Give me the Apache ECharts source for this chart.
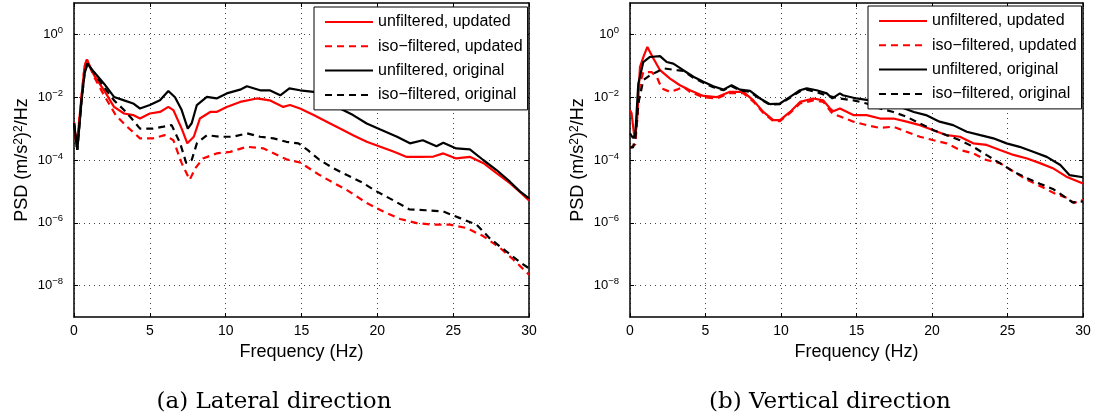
<!DOCTYPE html>
<html>
<head>
<meta charset="utf-8">
<script src="https://cdn.jsdelivr.net/npm/echarts@6/dist/echarts.min.js"></script>
<style>html,body{margin:0;padding:0;background:#fff;}#main{width:1098px;height:420px;}</style>
</head>
<body>
<div id="main"></div>
<script>
// ---------- data ----------
const seriesNames = ['unfiltered, updated', 'iso\u2212filtered, updated', 'unfiltered, original', 'iso\u2212filtered, original'];
const xTickValues = [0, 5, 10, 15, 20, 25, 30];
const yTickValues = [1e-8, 1e-6, 1e-4, 1e-2, 1];
const captions = ['(a) Lateral direction', '(b) Vertical direction'];

// (a) Lateral direction
const latUnfUpdF = [0, 0.18, 0.5, 0.7, 0.85, 1.32, 1.98, 2.64, 3.3, 3.9, 4.35, 5.0, 5.67, 6.22, 6.55, 7.1, 7.47, 7.9, 8.3, 8.98, 9.4, 10.07, 10.95, 12.05, 12.9, 13.8, 14.24, 14.9, 15.8, 16.66, 17.54, 18.4, 19.3, 20.2, 21.1, 21.9, 22.8, 23.7, 24.35, 25.2, 26.1, 27.0, 27.86, 28.74, 29.4, 30];
const latUnfUpdV = [1.58e-3, 2.63e-4, 1.10e-2, 1.0e-1, 1.58e-1, 5.01e-2, 1.66e-2, 4.90e-3, 3.02e-3, 2.69e-3, 2.09e-3, 3.02e-3, 3.39e-3, 4.90e-3, 3.89e-3, 1.0e-3, 3.39e-4, 5.50e-4, 2.09e-3, 3.39e-3, 3.39e-3, 4.90e-3, 7.08e-3, 9.12e-3, 7.94e-3, 4.90e-3, 5.62e-3, 4.37e-3, 2.69e-3, 1.66e-3, 1.0e-3, 6.17e-4, 3.80e-4, 2.63e-4, 1.82e-4, 1.26e-4, 1.26e-4, 1.29e-4, 1.62e-4, 1.12e-4, 1.26e-4, 7.94e-5, 3.80e-5, 1.82e-5, 9.55e-6, 5.13e-6];

const latIsoUpdF = [0, 0.18, 0.5, 0.7, 0.85, 1.32, 1.98, 2.3, 2.75, 3.5, 4.35, 5.2, 5.98, 6.55, 7.1, 7.63, 8.0, 8.5, 9.4, 10.3, 11.4, 12.5, 13.4, 14.0, 14.9, 16.2, 17.0, 17.97, 19.3, 20.4, 21.5, 22.6, 23.7, 24.8, 25.9, 27.0, 28.1, 28.96, 30];
const latIsoUpdV = [1.58e-3, 2.63e-4, 1.10e-2, 1.0e-1, 1.58e-1, 4.47e-2, 1.15e-2, 6.31e-3, 2.69e-3, 1.15e-3, 4.90e-4, 4.90e-4, 6.17e-4, 4.27e-4, 7.94e-5, 2.34e-5, 5.50e-5, 1.12e-4, 1.62e-4, 1.82e-4, 2.63e-4, 2.34e-4, 1.45e-4, 1.05e-4, 8.32e-5, 3.31e-5, 2.0e-5, 1.12e-5, 4.27e-6, 2.29e-6, 1.32e-6, 9.77e-7, 8.71e-7, 8.71e-7, 6.76e-7, 3.72e-7, 1.58e-7, 6.76e-8, 2.24e-8];

const latUnfOrgF = [0, 0.22, 0.5, 0.7, 0.88, 1.32, 1.98, 2.64, 3.3, 3.9, 4.35, 5.0, 5.67, 6.22, 6.66, 7.1, 7.5, 7.76, 8.1, 8.76, 9.4, 10.07, 10.95, 11.4, 12.27, 12.9, 13.6, 14.2, 14.9, 15.8, 16.66, 17.54, 18.4, 19.3, 20.2, 21.3, 22.15, 23.0, 23.9, 24.35, 25.2, 26.1, 26.98, 27.86, 28.74, 29.4, 30];
const latUnfOrgV = [1.48e-3, 2.09e-4, 7.94e-3, 5.75e-2, 1.17e-1, 6.31e-2, 2.69e-2, 1.02e-2, 7.94e-3, 6.31e-3, 4.37e-3, 5.62e-3, 7.94e-3, 1.58e-2, 1.0e-2, 3.89e-3, 1.0e-3, 1.48e-3, 5.62e-3, 1.02e-2, 9.12e-3, 1.32e-2, 1.74e-2, 2.24e-2, 1.66e-2, 1.66e-2, 1.15e-2, 1.91e-2, 1.66e-2, 1.48e-2, 7.94e-3, 4.37e-3, 2.69e-3, 1.45e-3, 9.33e-4, 5.50e-4, 3.39e-4, 4.27e-4, 2.75e-4, 3.55e-4, 2.34e-4, 2.19e-4, 1.0e-4, 4.79e-5, 2.04e-5, 1.0e-5, 6.03e-6];

const latIsoOrgF = [0, 0.22, 0.5, 0.7, 0.88, 1.32, 1.98, 2.64, 3.3, 3.8, 4.35, 5.2, 5.9, 6.44, 7.0, 7.4, 7.76, 8.1, 8.76, 9.6, 10.5, 11.4, 12.27, 13.15, 14.0, 14.8, 15.4, 16.2, 17.1, 18.0, 18.9, 19.95, 21.0, 22.1, 23.2, 24.35, 25.45, 26.55, 27.4, 28.5, 29.4, 30];
const latIsoOrgV = [1.48e-3, 2.09e-4, 7.94e-3, 5.75e-2, 1.17e-1, 6.03e-2, 2.09e-2, 7.94e-3, 3.89e-3, 2.09e-3, 1.0e-3, 1.0e-3, 1.15e-3, 1.29e-3, 3.39e-4, 7.94e-5, 1.0e-4, 3.39e-4, 6.17e-4, 5.50e-4, 5.50e-4, 7.08e-4, 5.50e-4, 4.90e-4, 3.80e-4, 3.39e-4, 2.09e-4, 1.0e-4, 5.50e-5, 3.31e-5, 2.04e-5, 1.0e-5, 5.37e-6, 2.69e-6, 2.51e-6, 2.29e-6, 1.41e-6, 8.71e-7, 3.24e-7, 1.23e-7, 5.62e-8, 3.55e-8];

// (b) Vertical direction
const verUnfUpdF = [0, 0.1, 0.3, 0.45, 0.66, 0.9, 1.15, 1.55, 1.99, 2.65, 3.31, 3.97, 4.86, 5.74, 6.62, 7.5, 8.17, 8.83, 9.49, 9.93, 10.6, 11.26, 12.14, 12.8, 13.25, 13.46, 13.9, 14.79, 15.67, 16.56, 17.44, 18.32, 19.2, 20.09, 20.97, 21.85, 22.73, 23.62, 24.5, 25.4, 26.3, 27.15, 28.0, 28.9, 30];
const verUnfUpdV = [3.89e-3, 3.16e-3, 5.01e-4, 1.26e-3, 9.12e-2, 2.0e-1, 3.98e-1, 1.70e-1, 7.24e-2, 3.89e-2, 2.40e-2, 1.66e-2, 1.10e-2, 1.0e-2, 1.48e-2, 1.48e-2, 7.94e-3, 3.39e-3, 1.86e-3, 1.86e-3, 3.39e-3, 7.08e-3, 9.12e-3, 7.94e-3, 4.37e-3, 3.55e-3, 4.37e-3, 2.69e-3, 2.69e-3, 2.09e-3, 2.09e-3, 1.66e-3, 1.29e-3, 8.91e-4, 6.17e-4, 5.50e-4, 3.39e-4, 3.02e-4, 2.09e-4, 1.45e-4, 1.12e-4, 7.94e-5, 5.50e-5, 2.95e-5, 1.78e-5];

const verIsoUpdF = [0, 0.1, 0.35, 0.66, 0.88, 1.43, 1.77, 2.1, 2.65, 3.1, 3.53, 3.97, 4.86, 5.74, 6.62, 7.5, 8.17, 8.83, 9.49, 9.93, 10.6, 11.26, 12.14, 12.8, 13.4, 14.8, 15.67, 16.56, 17.44, 18.3, 19.2, 20.1, 20.97, 21.85, 22.73, 23.6, 24.5, 25.4, 26.3, 27.0, 28.1, 29.0, 29.4, 30];
const verIsoUpdV = [2.40e-4, 2.40e-4, 3.16e-4, 2.69e-2, 6.31e-2, 6.31e-2, 4.47e-2, 1.91e-2, 1.48e-2, 1.74e-2, 2.14e-2, 1.48e-2, 1.0e-2, 9.12e-3, 1.35e-2, 1.35e-2, 7.24e-3, 3.16e-3, 1.74e-3, 1.74e-3, 3.16e-3, 6.31e-3, 7.94e-3, 7.08e-3, 3.02e-3, 1.66e-3, 1.29e-3, 1.05e-3, 1.15e-3, 7.94e-4, 5.50e-4, 4.27e-4, 3.39e-4, 2.09e-4, 1.62e-4, 1.0e-4, 7.94e-5, 4.27e-5, 2.34e-5, 1.62e-5, 8.71e-6, 6.03e-6, 4.27e-6, 5.37e-6];

const verUnfOrgF = [0, 0.2, 0.35, 0.55, 0.88, 1.32, 1.99, 2.43, 2.87, 3.53, 4.2, 4.86, 5.52, 6.18, 6.73, 7.28, 7.95, 8.61, 9.27, 9.93, 10.6, 11.26, 11.7, 12.36, 13.03, 13.4, 13.9, 14.1, 15.0, 15.9, 17.0, 17.9, 18.8, 19.6, 20.5, 21.4, 22.3, 23.2, 24.06, 24.94, 25.8, 26.7, 27.6, 28.5, 29.1, 30];
const verUnfOrgV = [7.08e-4, 5.01e-4, 6.31e-4, 2.69e-2, 1.32e-1, 1.91e-1, 2.04e-1, 1.32e-1, 1.17e-1, 7.24e-2, 4.47e-2, 3.09e-2, 2.24e-2, 1.74e-2, 2.40e-2, 1.74e-2, 1.58e-2, 9.12e-3, 6.03e-3, 6.31e-3, 1.02e-2, 1.66e-2, 1.91e-2, 1.66e-2, 1.32e-2, 9.12e-3, 1.32e-2, 1.15e-2, 9.12e-3, 7.94e-3, 5.62e-3, 4.90e-3, 3.39e-3, 2.69e-3, 1.66e-3, 1.29e-3, 7.94e-4, 6.17e-4, 4.90e-4, 3.39e-4, 2.63e-4, 1.82e-4, 1.26e-4, 6.92e-5, 3.31e-5, 2.82e-5];

const verIsoOrgF = [0, 0.2, 0.35, 0.55, 0.88, 1.32, 1.77, 2.21, 3.1, 3.53, 4.2, 4.86, 5.52, 6.18, 6.73, 7.28, 7.95, 8.61, 9.27, 9.93, 10.6, 11.26, 11.7, 12.36, 13.03, 13.9, 14.8, 15.67, 16.56, 17.44, 18.3, 19.2, 20.1, 20.97, 21.85, 22.73, 23.6, 24.5, 25.4, 26.3, 27.15, 28.0, 28.6, 29.3, 30];
const verIsoOrgV = [2.51e-4, 2.51e-4, 5.01e-4, 6.31e-3, 3.47e-2, 5.01e-2, 6.31e-2, 8.32e-2, 7.24e-2, 6.92e-2, 4.17e-2, 2.88e-2, 2.09e-2, 1.66e-2, 2.24e-2, 1.66e-2, 1.48e-2, 8.71e-3, 5.75e-3, 6.03e-3, 9.55e-3, 1.55e-2, 1.74e-2, 1.45e-2, 1.12e-2, 9.12e-3, 7.94e-3, 6.31e-3, 4.37e-3, 3.39e-3, 2.40e-3, 1.45e-3, 8.91e-4, 6.17e-4, 4.27e-4, 2.63e-4, 1.45e-4, 7.94e-5, 4.27e-5, 2.63e-5, 1.74e-5, 1.20e-5, 7.76e-6, 4.47e-6, 4.79e-6];

// ---------- chart ----------
const FONT = '"Liberation Sans", Arial, Helvetica, sans-serif';
const chart = echarts.init(document.getElementById('main'), null, {renderer: 'canvas'});

function pairs(f, v) { return f.map((x, i) => [x, v[i]]); }

const grids = [
  {left: 74, top: 3, width: 455, height: 314},
  {left: 630, top: 3, width: 453, height: 314}
];
const gridLine = {show: true, lineStyle: {color: '#444', width: 1, type: [1, 4]}};
const axisLineStyle = {show: true, onZero: false, lineStyle: {color: '#000', width: 1.5}};
const tickStyle = {show: true, inside: true, length: 4, lineStyle: {color: '#000', width: 1}};

const xAxes = [], yAxes = [];
[0, 1].forEach(g => {
  xAxes.push({
    type: 'value', gridIndex: g, min: 0, max: 30, interval: 5, position: 'bottom',
    axisLine: axisLineStyle, axisTick: tickStyle, splitLine: gridLine,
    axisLabel: {color: '#000', fontSize: 14, fontFamily: FONT, margin: 7},
    name: 'Frequency (Hz)', nameLocation: 'middle', nameGap: 25,
    nameTextStyle: {color: '#000', fontSize: 18, fontFamily: FONT}
  });
  xAxes.push({
    type: 'value', gridIndex: g, min: 0, max: 30, interval: 5, position: 'top',
    axisLine: axisLineStyle, axisTick: tickStyle, splitLine: {show: false},
    axisLabel: {show: false}
  });
  yAxes.push({
    type: 'log', logBase: 10, gridIndex: g, min: 1e-9, max: 10, position: 'left',
    axisLine: axisLineStyle,
    axisTick: Object.assign({}, tickStyle, {customValues: yTickValues}),
    splitLine: gridLine,
    axisLabel: {
      customValues: yTickValues, margin: 11,
      formatter: function (v) {
        const e = Math.round(Math.log10(v));
        return '{b|10}{s|' + (e < 0 ? '\u2212' : '') + Math.abs(e) + '}';
      },
      rich: {
        b: {fontSize: 13, fontFamily: FONT, color: '#000', lineHeight: 13},
        s: {fontSize: 9.5, fontFamily: FONT, color: '#000', lineHeight: 10, padding: [0, 0, 8, 0]}
      }
    },
    name: '{a|PSD (m/s}{p|2}{a|)}{p|2}{a|/Hz}', nameLocation: 'middle', nameGap: 43,
    nameTextStyle: {
      rich: {
        a: {fontSize: 18, fontFamily: FONT, color: '#000', lineHeight: 18, padding: [4, 0, 0, 0], verticalAlign: 'bottom'},
        p: {fontSize: 12, fontFamily: FONT, color: '#000', lineHeight: 12, verticalAlign: 'top'}
      }
    }
  });
  yAxes.push({
    type: 'log', logBase: 10, gridIndex: g, min: 1e-9, max: 10, position: 'right',
    axisLine: axisLineStyle,
    axisTick: Object.assign({}, tickStyle, {customValues: yTickValues}),
    splitLine: {show: false}, axisLabel: {show: false}
  });
});

const panels = [
  [latUnfUpdF, latUnfUpdV, latIsoUpdF, latIsoUpdV, latUnfOrgF, latUnfOrgV, latIsoOrgF, latIsoOrgV],
  [verUnfUpdF, verUnfUpdV, verIsoUpdF, verIsoUpdV, verUnfOrgF, verUnfOrgV, verIsoOrgF, verIsoOrgV]
];
const colors = ['#ff0000', '#ff0000', '#000000', '#000000'];
const dashes = ['solid', [7, 5], 'solid', [7, 5]];

const series = [];
panels.forEach((p, g) => {
  for (let k = 0; k < 4; k++) {
    series.push({
      type: 'line', name: seriesNames[k], xAxisIndex: g * 2, yAxisIndex: g * 2,
      data: pairs(p[k * 2], p[k * 2 + 1]),
      showSymbol: false, symbol: 'none', smooth: false, animation: false,
      lineStyle: {color: colors[k], width: 2.2, type: dashes[k]},
      itemStyle: {color: colors[k]}, z: 2 + k
    });
  }
});

const legendBase = {
  orient: 'vertical', itemWidth: 48, itemHeight: 14, itemGap: 8.3,
  padding: [7, 5, 7, 10], backgroundColor: '#fff', borderColor: '#000', borderWidth: 1,
  textStyle: {color: '#000', fontSize: 16, fontFamily: FONT},
  itemStyle: {opacity: 0, borderWidth: 0},
  data: seriesNames, selectedMode: false, z: 10
};

chart.setOption({
  backgroundColor: '#fff',
  animation: false,
  grid: grids,
  xAxis: xAxes,
  yAxis: yAxes,
  legend: [
    Object.assign({}, legendBase, {left: 314, top: 7}),
    Object.assign({}, legendBase, {left: 868, top: 6})
  ],
  graphic: [
    {type: 'text', x: 274, y: 402, style: {text: captions[0], textAlign: 'center', textVerticalAlign: 'middle', font: '23px "DejaVu Serif", serif', fill: '#000'}},
    {type: 'text', x: 830, y: 402, style: {text: captions[1], textAlign: 'center', textVerticalAlign: 'middle', font: '23px "DejaVu Serif", serif', fill: '#000'}}
  ],
  series: series
});
</script>
</body>
</html>
